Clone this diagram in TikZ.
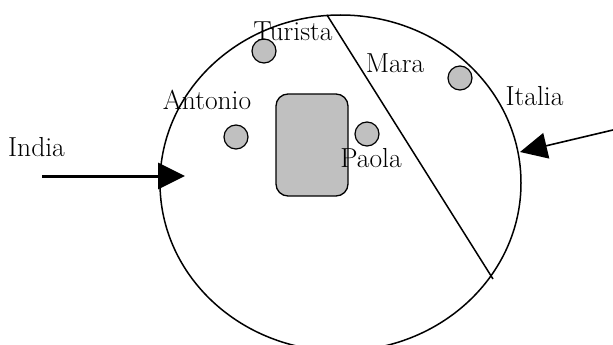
\documentclass[tikz,border=0pt]{standalone}
\usetikzlibrary{arrows.meta,shapes.geometric}
\definecolor{seatgray}{HTML}{C0C0C0}
\begin{document}
\begin{tikzpicture}[x=1pt,y=-1pt,
  person/.style={circle,draw=black,fill=seatgray,line width=1.2pt,minimum size=24pt,inner sep=0pt},
  lbl/.style={font=\fontsize{27.5}{32}\selectfont,inner sep=0pt,anchor=base},
  bigtip/.style={-{Triangle[length=27pt,width=26pt]}}]
\useasboundingbox (0,0) rectangle (613,345);
\clip (0,0) rectangle (613,345);
% hall
\node[draw=black,ellipse,line width=1.5pt,minimum width=361pt,minimum height=336pt,inner sep=0pt] (area) at (340.5,183) {};
% dividing line
\coordinate (divtop) at (327,15);
\coordinate (divbot) at (493,279);
\draw[line width=1.5pt] (divtop) -- (divbot);
% table
\node[draw=black,fill=seatgray,rounded corners=12pt,line width=1.3pt,minimum width=72pt,minimum height=102pt,inner sep=0pt] (table) at (312,145) {};
% people
\node[person] (turista) at (264,51) {};
\node[person] (mara) at (460,78) {};
\node[person] (antonio) at (236,137) {};
\node[person] (paola) at (367,134) {};
% labels
\node[lbl] (lturista) at (293,40.7) {Turista};
\node[lbl] (lmara) at (395,72.7) {Mara};
\node[lbl] (lantonio) at (207,110) {Antonio};
\node[lbl] (lpaola) at (371,167) {Paola};
\node[lbl] (litalia) at (534.5,105) {Italia};
\node[lbl] (lindia) at (36.5,156.7) {India};
% arrows
\coordinate (indiastart) at (42,176);
\coordinate (indiatip) at (185,176);
\draw[bigtip,line width=3pt] (indiastart) -- (indiatip);
\coordinate (italiastart) at (615,129.5);
\coordinate (italiatip) at (520,152);
\draw[bigtip,line width=1.6pt] (italiastart) -- (italiatip);
\end{tikzpicture}
\end{document}
